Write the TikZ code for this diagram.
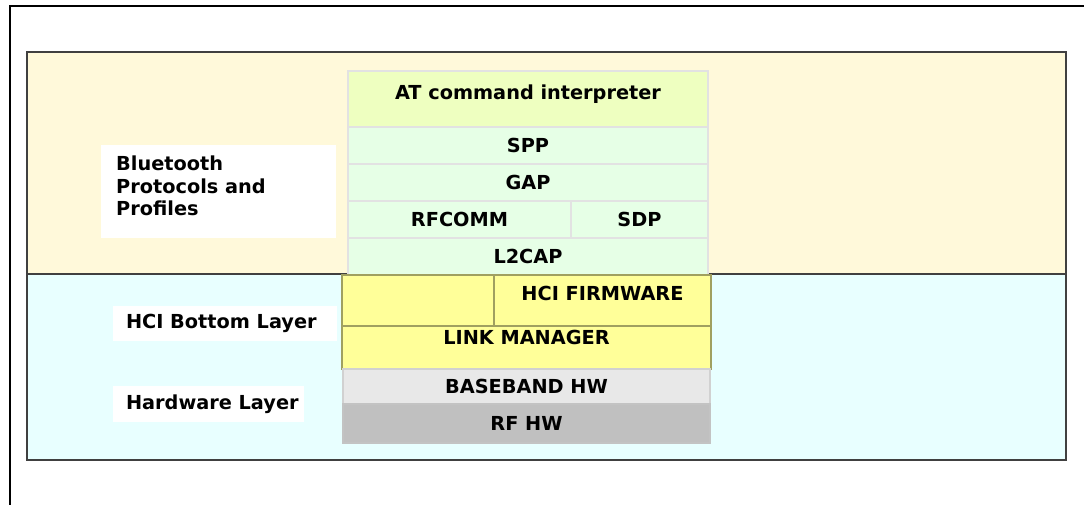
\documentclass[tikz,border=0pt]{standalone}
\usepackage{fontspec}
\usepackage{tikz}
\usetikzlibrary{positioning}
\setmainfont{DejaVu Sans}

\definecolor{protoband}{HTML}{FFF9DA}
\definecolor{hwband}{HTML}{E8FFFF}
\definecolor{bandline}{HTML}{404040}
\definecolor{atfill}{HTML}{EEFFC0}
\definecolor{stackfill}{HTML}{E6FFE6}
\definecolor{stackline}{HTML}{E2E2E2}
\definecolor{hcifill}{HTML}{FFFF99}
\definecolor{hciline}{HTML}{A0A060}
\definecolor{bbfill}{HTML}{E8E8E8}
\definecolor{rffill}{HTML}{C0C0C0}

\tikzset{
  band/.style={draw=bandline, line width=1.3pt, inner sep=0pt},
  tag/.style={fill=white, inner sep=0pt, align=left, font=\fontsize{19.3}{22.5}\selectfont\bfseries},
  layer/.style={draw=stackline, line width=1.2pt, fill=stackfill, inner sep=0pt,
    font=\fontsize{19.3}{22}\selectfont\bfseries},
  hcilayer/.style={layer, draw=hciline, fill=hcifill}
}

\begin{document}
\begin{tikzpicture}[x=1pt, y=-1pt]
\useasboundingbox (0,0) rectangle (1084,505);

% outer frame
\draw[line width=2.6pt] (10,506) |- (1085,6);

% the two bands
\node[band, fill=protoband, minimum width=1039, minimum height=222] (protocols) at (546.5,163) {};
\node[band, fill=hwband, minimum width=1039, minimum height=186] (hardware) at (546.5,367) {};

% labels on the left
\node[tag, minimum width=235, minimum height=93] (btlabel) at (218.5,191.5) {};
\node[tag, fill=none, anchor=north west] (bttext) at (116,156)
  {Bluetooth\\Protocols and\\Profiles};
\node[tag, minimum width=224, minimum height=35] (hcilabel) at (225,323.5)
  {\makebox[198pt][l]{HCI Bottom Layer}};
\node[tag, minimum width=191, minimum height=36] (hwlabel) at (208.5,404)
  {\makebox[165pt][l]{Hardware Layer}};

% protocol stack
\node[layer, fill=atfill, minimum width=360, minimum height=56] (atcmd) at (528,99)
  {\raisebox{13pt}{AT command interpreter}};
\node[layer, minimum width=360, minimum height=37] (spp) at (528,145.5) {SPP};
\node[layer, minimum width=360, minimum height=37] (gap) at (528,182.5) {GAP};
\node[layer, minimum width=223, minimum height=37] (rfcomm) at (459.5,219.5) {RFCOMM};
\node[layer, minimum width=137, minimum height=37] (sdp) at (639.5,219.5) {SDP};
\node[layer, minimum width=360, minimum height=37] (l2cap) at (528,256.5) {L2CAP};

% HCI bottom layer
\node[hcilayer, minimum width=152, minimum height=51] (hciblank) at (418,300.5) {};
\node[hcilayer, minimum width=217, minimum height=51] (hcifw) at (602.5,300.5)
  {\raisebox{15pt}{HCI FIRMWARE}};
\node[hcilayer, minimum width=369, minimum height=43] (linkmgr) at (526.5,347.5)
  {\raisebox{20pt}{LINK MANAGER}};

% hardware
\node[layer, draw=bbfill!90!black, fill=bbfill, minimum width=367, minimum height=35] (baseband) at (526.5,386.5) {BASEBAND HW};
\node[layer, draw=rffill!95!white, fill=rffill, minimum width=367, minimum height=39] (rfhw) at (526.5,423.5) {RF HW};

\end{tikzpicture}
\end{document}
